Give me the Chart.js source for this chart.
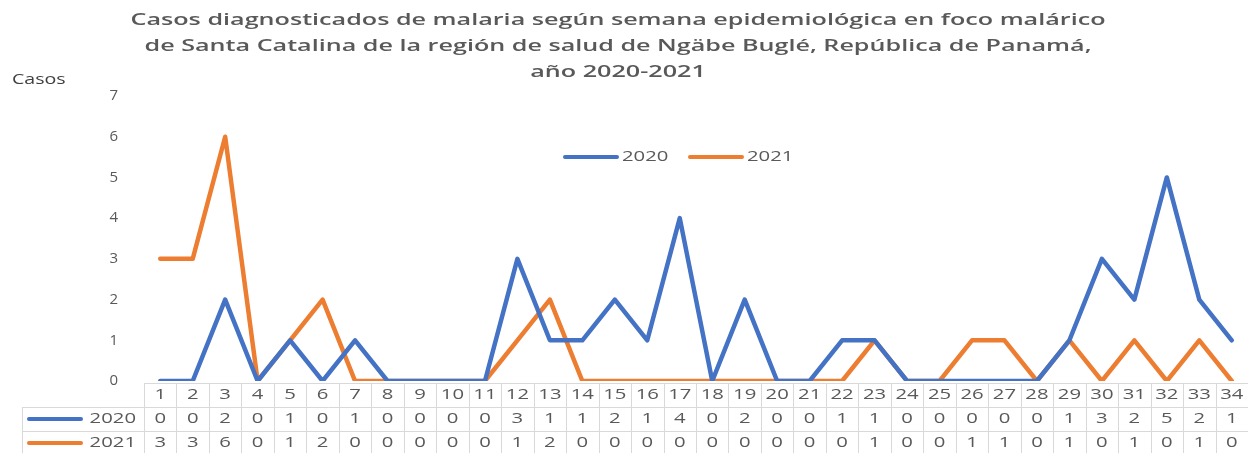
<!DOCTYPE html>
<html>
<head>
<meta charset="utf-8">
<script src="https://cdn.jsdelivr.net/npm/chart.js@4/dist/chart.umd.min.js"></script>
<style>
  html, body { margin: 0; padding: 0; background: #fff; }
  canvas { display: block; }
</style>
</head>
<body>
<canvas id="grafico" width="1248" height="453"></canvas>
<script>
// Datos
const semanas = ['1','2','3','4','5','6','7','8','9','10','11','12','13','14','15','16','17',
  '18','19','20','21','22','23','24','25','26','27','28','29','30','31','32','33','34'];
const casos2020 = [0,0,2,0,1,0,1,0,0,0,0,3,1,1,2,1,4,0,2,0,0,1,1,0,0,0,0,0,1,3,2,5,2,1];
const casos2021 = [3,3,6,0,1,2,0,0,0,0,0,1,2,0,0,0,0,0,0,0,0,0,1,0,0,1,1,0,1,0,1,0,1,0];
const etiquetas = ['2020', '2021'];
const titulo = [
  'Casos diagnosticados de malaria según semana epidemiológica en foco malárico',
  'de Santa Catalina de la región de salud de Ngäbe Buglé, República de Panamá,',
  'año 2020-2021'
];

const AZUL = '#4472C4';
const NARANJA = '#ED7D31';
const GRIS = '#595959';
const BORDE = '#D9D9D9';

// Texto estirado horizontalmente (el original esta deformado)
function textoEstirado(ctx, texto, x, y, sx, align) {
  ctx.save();
  ctx.translate(x, y);
  ctx.scale(sx, 1);
  ctx.textAlign = align;
  ctx.fillText(texto, 0, 0);
  ctx.restore();
}

// Titulo, leyenda y tabla de datos
const extras = {
  id: 'extras',
  afterDraw(chart) {
    const ctx = chart.ctx;
    const x = chart.scales.x;
    const area = chart.chartArea;
    ctx.save();
    ctx.textBaseline = 'middle';

    // Titulo
    ctx.fillStyle = GRIS;
    ctx.font = '600 17px "Open Sans"';
    const sxT = 975 / ctx.measureText(titulo[0]).width;
    titulo.forEach((t, i) => textoEstirado(ctx, t, 618, 20 + i * 26, sxT, 'center'));

    // Etiqueta del eje
    ctx.fillStyle = '#404040';
    ctx.font = '14px "Open Sans"';
    textoEstirado(ctx, 'Casos', 12, 80, 1.4, 'left');

    // Leyenda
    ctx.font = '14px "Open Sans"';
    ctx.lineCap = 'round';
    let lx = 565;
    chart.data.datasets.forEach(ds => {
      ctx.strokeStyle = ds.borderColor;
      ctx.lineWidth = 4;
      ctx.beginPath();
      ctx.moveTo(lx, 157);
      ctx.lineTo(lx + 52, 157);
      ctx.stroke();
      ctx.fillStyle = GRIS;
      textoEstirado(ctx, ds.label, lx + 57, 157, 1.45, 'left');
      lx += 125;
    });

    // Tabla de datos
    const ancho = x.getPixelForValue(1) - x.getPixelForValue(0);
    const izq = x.getPixelForValue(0) - ancho / 2;
    const der = chart.width;
    const y0 = area.bottom + 2, y1 = y0 + 24, y2 = y1 + 24, y3 = y2 + 24;
    ctx.strokeStyle = BORDE;
    ctx.lineWidth = 1;
    ctx.lineCap = 'butt';
    ctx.beginPath();
    ctx.moveTo(izq, y0 + 0.5); ctx.lineTo(der, y0 + 0.5);
    ctx.moveTo(22, y1 + 0.5); ctx.lineTo(der, y1 + 0.5);
    ctx.moveTo(22, y2 + 0.5); ctx.lineTo(der, y2 + 0.5);
    ctx.moveTo(22.5, y1); ctx.lineTo(22.5, y3);
    for (let i = 0; i <= semanas.length; i++) {
      const bx = Math.round(izq + i * ancho) + 0.5;
      ctx.moveTo(bx, y0); ctx.lineTo(bx, y3);
    }
    ctx.stroke();

    ctx.fillStyle = GRIS;
    ctx.font = '14px "Open Sans"';
    semanas.forEach((s, i) => {
      const cx = x.getPixelForValue(i);
      textoEstirado(ctx, s, cx, (y0 + y1) / 2, 1.45, 'center');
    });
    const filas = [y1, y2];
    chart.data.datasets.forEach((ds, k) => {
      const cy = (filas[k] + filas[k] + 24) / 2;
      ds.data.forEach((v, i) => {
        textoEstirado(ctx, String(v), x.getPixelForValue(i), cy, 1.45, 'center');
      });
      ctx.strokeStyle = ds.borderColor;
      ctx.lineWidth = 4;
      ctx.lineCap = 'round';
      ctx.beginPath();
      ctx.moveTo(29, cy);
      ctx.lineTo(81, cy);
      ctx.stroke();
      textoEstirado(ctx, ds.label, 136, cy, 1.45, 'right');
    });
    ctx.restore();
  }
};

new Chart(document.getElementById('grafico'), {
  type: 'line',
  data: {
    labels: semanas,
    datasets: [
      { label: etiquetas[0], data: casos2020, borderColor: AZUL, backgroundColor: AZUL },
      { label: etiquetas[1], data: casos2021, borderColor: NARANJA, backgroundColor: NARANJA }
    ]
  },
  options: {
    responsive: false,
    animation: false,
    devicePixelRatio: 1,
    layout: { padding: { top: 96, bottom: 72, left: 0, right: 0 } },
    elements: {
      line: { borderWidth: 4.5, tension: 0, borderCapStyle: 'round', borderJoinStyle: 'round' },
      point: { radius: 0, hoverRadius: 0 }
    },
    plugins: {
      legend: { display: false },
      title: { display: false },
      tooltip: { enabled: false }
    },
    scales: {
      x: {
        display: false,
        offset: true
      },
      y: {
        min: 0,
        max: 7,
        afterFit(scale) { scale.width = 144; },
        grid: { display: false, drawTicks: false },
        border: { display: false },
        ticks: {
          stepSize: 1,
          padding: 26,
          color: GRIS,
          font: { family: 'Open Sans', size: 15 }
        }
      }
    }
  },
  plugins: [extras]
});
</script>
</body>
</html>
